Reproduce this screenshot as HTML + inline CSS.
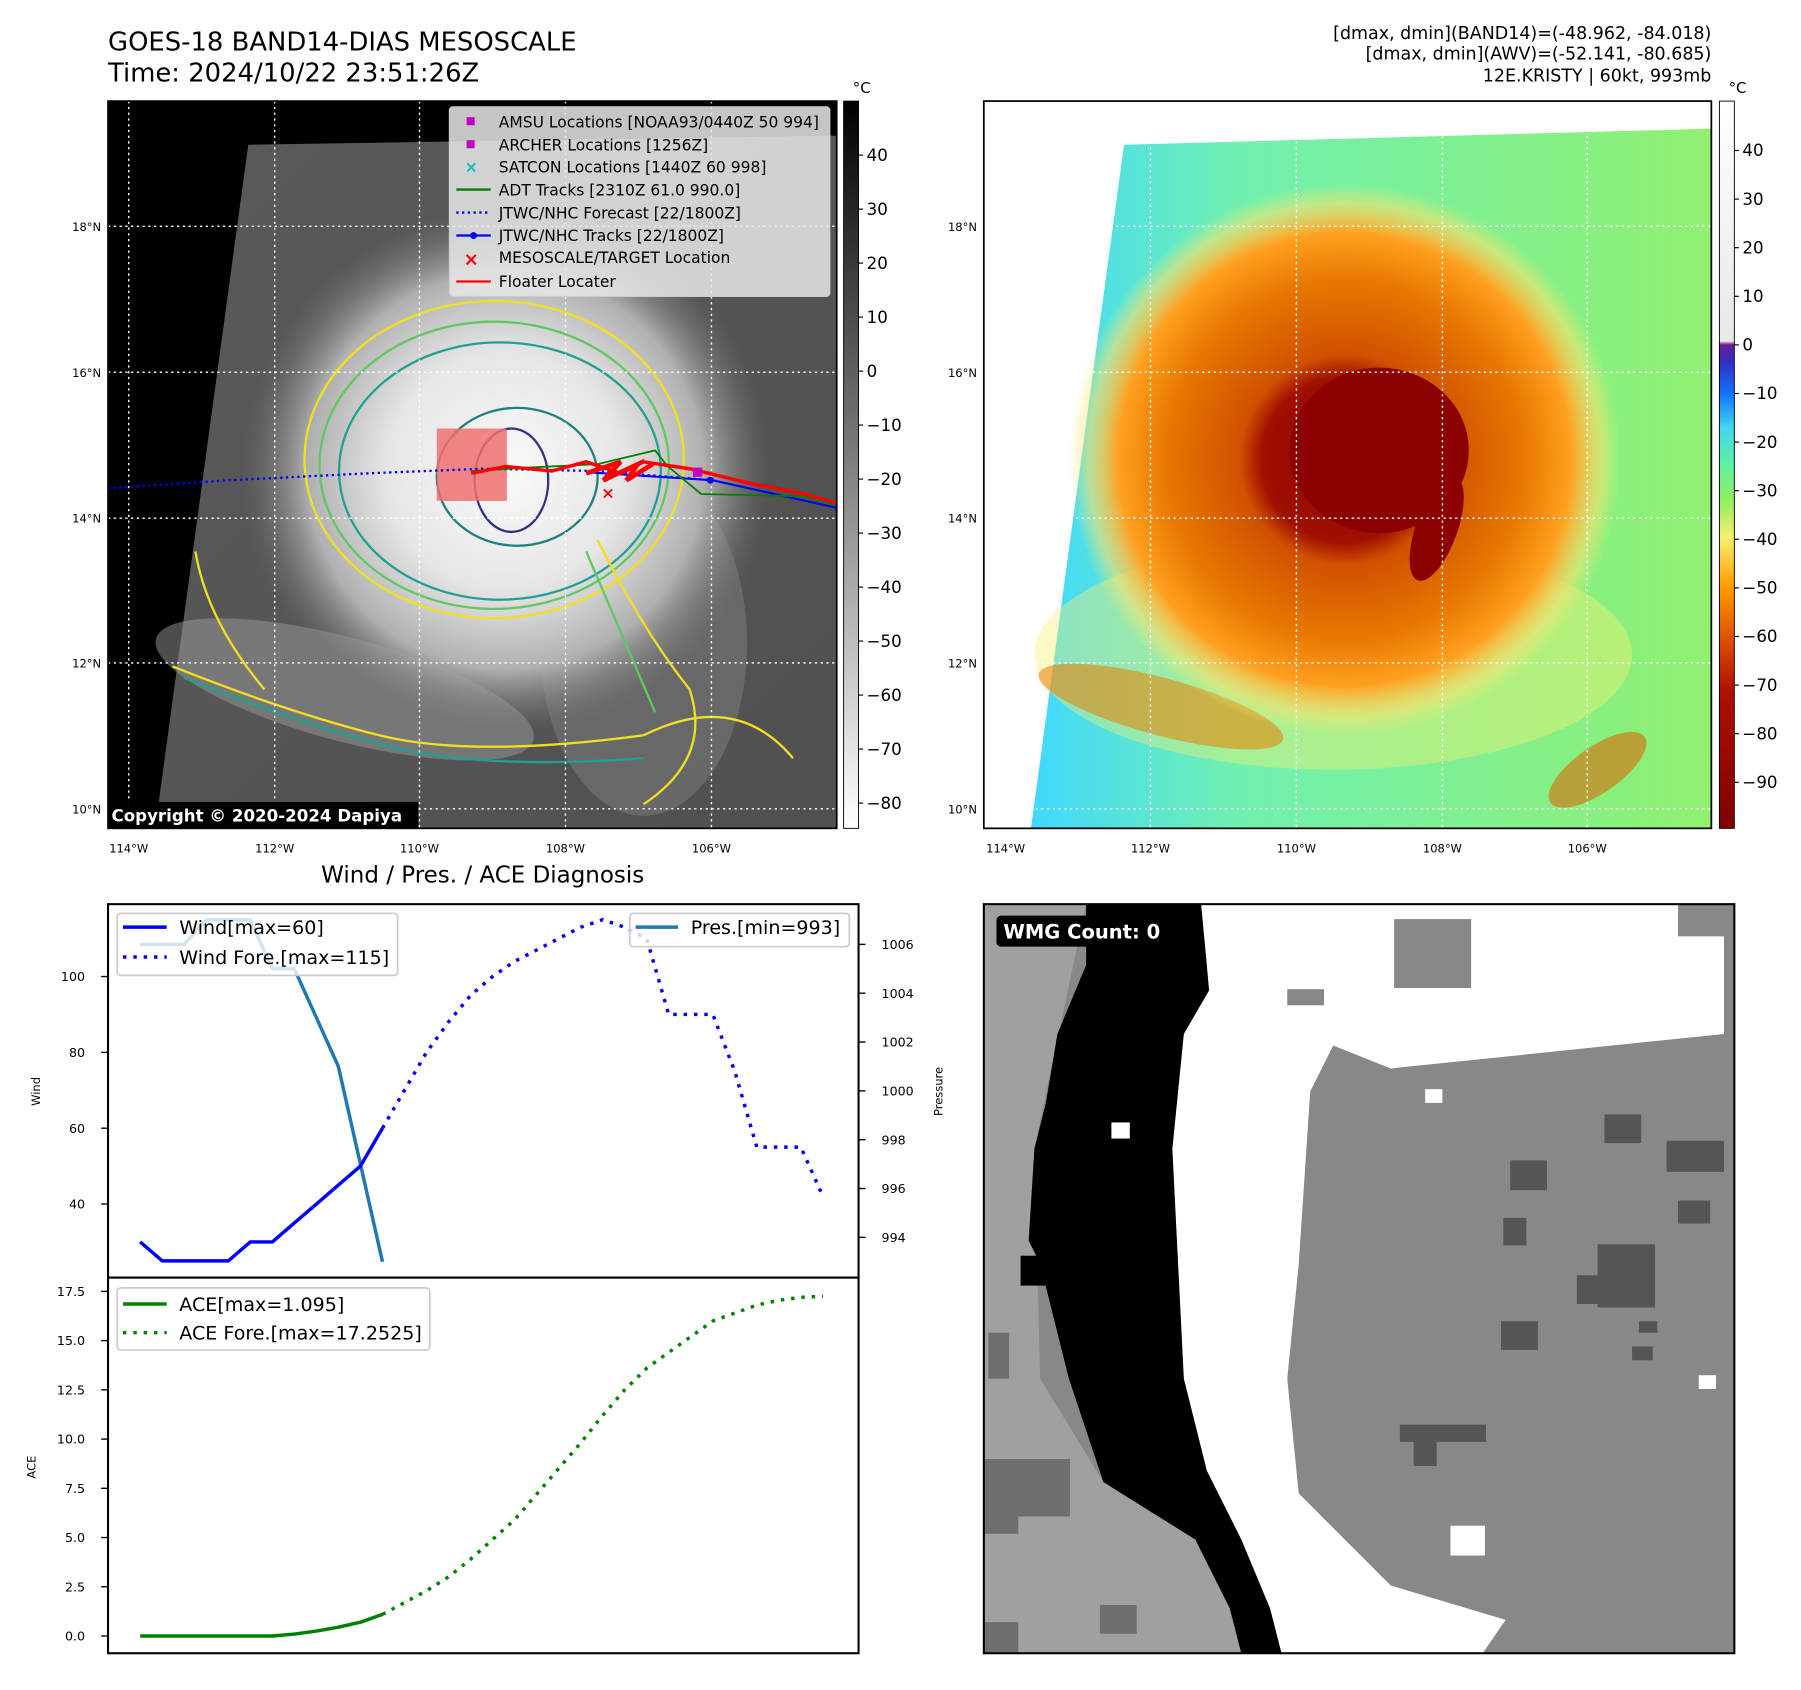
<!DOCTYPE html>
<html><head><meta charset="utf-8">
<style>
html,body{margin:0;padding:0;background:#fff;}
svg{display:block;font-family:"DejaVu Sans","Liberation Sans",sans-serif;}
</style></head>
<body>
<svg id="root" width="1801" height="1690" viewBox="0 0 1567 1471" preserveAspectRatio="none" xmlns="http://www.w3.org/2000/svg">
<defs>
  <radialGradient id="cloud" cx="440" cy="410" r="230" gradientUnits="userSpaceOnUse">
    <stop offset="0" stop-color="#fafafa"/><stop offset="0.45" stop-color="#e6e6e6"/><stop offset="0.75" stop-color="#b0b0b0"/><stop offset="1" stop-color="#707070" stop-opacity="0"/>
  </radialGradient>
  <linearGradient id="grey1" x1="0" y1="0" x2="1" y2="1">
    <stop offset="0" stop-color="#5a5a5a"/><stop offset="1" stop-color="#505050"/>
  </linearGradient>
  <linearGradient id="cb1" x1="0" y1="0" x2="0" y2="1">
    <stop offset="0" stop-color="#000"/><stop offset="1" stop-color="#fff"/>
  </linearGradient>
  <linearGradient id="cb2" x1="0" y1="0" x2="0" y2="1">
    <stop offset="0" stop-color="#ffffff"/><stop offset="0.33" stop-color="#e8e8e8"/>
    <stop offset="0.335" stop-color="#6a1a9a"/><stop offset="0.36" stop-color="#3030c0"/>
    <stop offset="0.40" stop-color="#1070ff"/><stop offset="0.45" stop-color="#40d8f0"/>
    <stop offset="0.50" stop-color="#60f0a0"/><stop offset="0.55" stop-color="#90f060"/>
    <stop offset="0.60" stop-color="#f8f070"/><stop offset="0.67" stop-color="#ff9900"/>
    <stop offset="0.74" stop-color="#e05000"/><stop offset="0.81" stop-color="#b01000"/>
    <stop offset="1" stop-color="#800000"/>
  </linearGradient>
  <linearGradient id="bg2" x1="0" y1="0" x2="1" y2="0">
    <stop offset="0" stop-color="#40d8ff"/><stop offset="0.3" stop-color="#70f0b0"/><stop offset="1" stop-color="#90f070"/>
  </linearGradient>
  <radialGradient id="storm" cx="1170" cy="400" r="240" gradientUnits="userSpaceOnUse">
    <stop offset="0" stop-color="#900000"/><stop offset="0.3" stop-color="#a01000"/><stop offset="0.38" stop-color="#d05000"/>
    <stop offset="0.65" stop-color="#e87800"/><stop offset="0.82" stop-color="#ffa020"/><stop offset="0.93" stop-color="#f8e070" stop-opacity="0.6"/><stop offset="1" stop-color="#f8f070" stop-opacity="0"/>
  </radialGradient>
  <clipPath id="clip1"><rect x="94" y="88" width="634" height="633"/></clipPath>
  <clipPath id="clip2"><rect x="856" y="88" width="633" height="633"/></clipPath>
</defs>

<text x="94" y="44" font-size="22.5">GOES-18 BAND14-DIAS MESOSCALE</text>
<text x="94" y="71" font-size="22.5">Time: 2024/10/22 23:51:26Z</text>
<g font-size="15.2" text-anchor="end">
<text x="1489" y="34">[dmax, dmin](BAND14)=(-48.962, -84.018)</text>
<text x="1489" y="52">[dmax, dmin](AWV)=(-52.141, -80.685)</text>
<text x="1489" y="71">12E.KRISTY | 60kt, 993mb</text>
</g>

<g clip-path="url(#clip1)">
  <rect x="94" y="88" width="634" height="633" fill="#000"/>
  <polygon points="216,126 728,118 728,721 135,721" fill="url(#grey1)"/>
  <ellipse cx="300" cy="600" rx="170" ry="45" fill="#9a9a9a" opacity="0.5" transform="rotate(15 300 600)"/>
  <ellipse cx="560" cy="560" rx="90" ry="150" fill="#8a8a8a" opacity="0.4"/>
  <circle cx="440" cy="410" r="230" fill="url(#cloud)"/>
  <g fill="none" stroke-width="2">
    <ellipse cx="430" cy="400" rx="165" ry="138" stroke="#f0e020"/>
    <ellipse cx="430" cy="405" rx="152" ry="125" stroke="#60c860"/>
    <ellipse cx="435" cy="410" rx="140" ry="112" stroke="#20a090"/>
    <ellipse cx="450" cy="415" rx="70" ry="60" stroke="#208080"/>
    <ellipse cx="445" cy="418" rx="32" ry="45" stroke="#303080"/>
    <path d="M150,580 Q250,620 330,640 T560,640 Q640,600 690,660" stroke="#f0e020"/>
    <path d="M160,590 Q260,630 340,650 T560,660" stroke="#20a090"/>
    <path d="M170,480 Q180,540 230,600" stroke="#f0e020"/>
    <path d="M520,470 Q560,550 600,600 Q620,660 560,700" stroke="#f0e020"/>
    <path d="M510,480 Q540,550 570,620" stroke="#60c860"/>
  </g>
  <g stroke="#fff" stroke-dasharray="2,3" stroke-width="1.2">
    <line x1="94" y1="197" x2="728" y2="197"/><line x1="94" y1="324" x2="728" y2="324"/><line x1="94" y1="451" x2="728" y2="451"/><line x1="94" y1="577" x2="728" y2="577"/><line x1="94" y1="704" x2="728" y2="704"/>
    <line x1="112" y1="88" x2="112" y2="721"/><line x1="239" y1="88" x2="239" y2="721"/><line x1="365" y1="88" x2="365" y2="721"/><line x1="492" y1="88" x2="492" y2="721"/><line x1="619" y1="88" x2="619" y2="721"/>
  </g>
  <rect x="380" y="373" width="61" height="63" fill="#f07070" opacity="0.85"/>
  <polyline points="94,425 200,418 320,412 420,408 520,410 620,418" fill="none" stroke="#0000ff" stroke-width="2" stroke-dasharray="2,3"/>
  <polyline points="510,411 620,418 728,442" fill="none" stroke="#0000ff" stroke-width="1.8"/>
  <polyline points="410,410 460,407 520,404 570,392 580,405 610,430 700,432 728,440" fill="none" stroke="#008000" stroke-width="1.6"/>
  <polyline points="410,412 440,406 480,410 510,402 540,412 560,402 600,408 650,420 700,430 728,438" fill="none" stroke="#ff0000" stroke-width="3"/>
  <path d="M510,412 L540,402 L525,418 L555,404 L545,418 L568,404" stroke="#ff0000" stroke-width="4" fill="none"/>
  <text x="529" y="434" font-size="14" fill="#f00" text-anchor="middle" font-weight="bold">×</text>
  <rect x="603" y="407" width="8" height="8" fill="#c000c0"/>
  <circle cx="618" cy="418" r="3" fill="#0000ff"/>
</g>
<rect x="94" y="88" width="634" height="633" fill="none" stroke="#000" stroke-width="1.5"/>
<rect x="94" y="698" width="270" height="23" fill="#000"/>
<text x="97" y="715" font-size="14.5" font-weight="bold" fill="#fff">Copyright © 2020-2024 Dapiya</text>

<g font-size="13.5">
  <rect x="391" y="93" width="331" height="165" rx="3" fill="#e8e8e8" fill-opacity="0.85" stroke="#ccc"/>
  <rect x="406" y="102" width="7" height="7" fill="#c000c0"/><text x="434" y="111">AMSU Locations [NOAA93/0440Z 50 994]</text>
  <rect x="406" y="122" width="7" height="7" fill="#c000c0"/><text x="434" y="131">ARCHER Locations [1256Z]</text>
  <text x="410" y="150" fill="#00c0c0" text-anchor="middle" font-weight="bold">×</text><text x="434" y="150">SATCON Locations [1440Z 60 998]</text>
  <line x1="397" y1="165" x2="427" y2="165" stroke="#008000" stroke-width="2"/><text x="434" y="170">ADT Tracks [2310Z 61.0 990.0]</text>
  <line x1="397" y1="185" x2="427" y2="185" stroke="#0000ff" stroke-width="2" stroke-dasharray="2,3"/><text x="434" y="190">JTWC/NHC Forecast [22/1800Z]</text>
  <line x1="397" y1="205" x2="427" y2="205" stroke="#0000ff" stroke-width="2"/><circle cx="412" cy="205" r="3" fill="#0000ff"/><text x="434" y="210">JTWC/NHC Tracks [22/1800Z]</text>
  <text x="410" y="231" fill="#f00" text-anchor="middle" font-weight="bold" font-size="16">×</text><text x="434" y="229">MESOSCALE/TARGET Location</text>
  <line x1="397" y1="245" x2="427" y2="245" stroke="#ff0000" stroke-width="2"/><text x="434" y="250">Floater Locater</text>
</g>

<rect x="734" y="88" width="13" height="633" fill="url(#cb1)" stroke="#000" stroke-width="0.8"/>
<text x="742" y="81" font-size="13">°C</text>
<g id="cb1ticks" font-size="14.5"></g>

<g font-size="10" text-anchor="end">
<text x="88" y="201">18°N</text><text x="88" y="328">16°N</text><text x="88" y="455">14°N</text><text x="88" y="581">12°N</text><text x="88" y="708">10°N</text>
</g>
<g font-size="10" text-anchor="middle">
<text x="112" y="742">114°W</text><text x="239" y="742">112°W</text><text x="365" y="742">110°W</text><text x="492" y="742">108°W</text><text x="619" y="742">106°W</text>
</g>

<g clip-path="url(#clip2)">
  <rect x="856" y="88" width="633" height="633" fill="#fff"/>
  <polygon points="978,126 1489,112 1489,721 897,721" fill="url(#bg2)"/>
  <ellipse cx="1160" cy="570" rx="260" ry="100" fill="#f8f070" opacity="0.4"/>
  <ellipse cx="1010" cy="615" rx="110" ry="25" fill="#e88000" opacity="0.55" transform="rotate(15 1010 615)"/>
  <ellipse cx="1390" cy="670" rx="50" ry="20" fill="#e06000" opacity="0.55" transform="rotate(-35 1390 670)"/>
  <circle cx="1170" cy="400" r="240" fill="url(#storm)"/>
  <ellipse cx="1200" cy="392" rx="78" ry="72" fill="#8b0000"/>
  <ellipse cx="1250" cy="460" rx="18" ry="48" fill="#8b0000" transform="rotate(20 1250 460)"/>
  <g stroke="#fff" stroke-dasharray="2,3" stroke-width="1.2">
    <line x1="856" y1="197" x2="1489" y2="197"/><line x1="856" y1="324" x2="1489" y2="324"/><line x1="856" y1="451" x2="1489" y2="451"/><line x1="856" y1="577" x2="1489" y2="577"/><line x1="856" y1="704" x2="1489" y2="704"/>
    <line x1="875" y1="88" x2="875" y2="721"/><line x1="1001" y1="88" x2="1001" y2="721"/><line x1="1128" y1="88" x2="1128" y2="721"/><line x1="1255" y1="88" x2="1255" y2="721"/><line x1="1381" y1="88" x2="1381" y2="721"/>
  </g>
</g>
<rect x="856" y="88" width="633" height="633" fill="none" stroke="#000" stroke-width="1.5"/>
<rect x="1496" y="88" width="13" height="633" fill="url(#cb2)" stroke="#000" stroke-width="0.8"/>
<text x="1504" y="81" font-size="13">°C</text>
<g id="cb2ticks" font-size="14.5"></g>
<g font-size="10" text-anchor="end">
<text x="850" y="201">18°N</text><text x="850" y="328">16°N</text><text x="850" y="455">14°N</text><text x="850" y="581">12°N</text><text x="850" y="708">10°N</text>
</g>
<g font-size="10" text-anchor="middle">
<text x="875" y="742">114°W</text><text x="1001" y="742">112°W</text><text x="1128" y="742">110°W</text><text x="1255" y="742">108°W</text><text x="1381" y="742">106°W</text>
</g>

<text x="420" y="768" font-size="20" text-anchor="middle">Wind / Pres. / ACE Diagnosis</text>
<g id="chart"></g>
<rect x="94" y="787" width="653" height="325" fill="none" stroke="#000" stroke-width="1.8"/>
<rect x="94" y="1112" width="653" height="327" fill="none" stroke="#000" stroke-width="1.8"/>
<text transform="translate(35 950) rotate(-90)" font-size="10" text-anchor="middle">Wind</text>
<text transform="translate(820 950) rotate(-90)" font-size="10" text-anchor="middle">Pressure</text>
<text transform="translate(31 1277) rotate(-90)" font-size="10" text-anchor="middle">ACE</text>

<g font-size="16.6">
  <rect x="102" y="795" width="244" height="54" rx="3" fill="#fff" fill-opacity="0.8" stroke="#ccc" stroke-width="1.5"/>
  <line x1="107" y1="807" x2="145" y2="807" stroke="#0000ff" stroke-width="3"/><text x="156" y="813">Wind[max=60]</text>
  <line x1="107" y1="833" x2="145" y2="833" stroke="#0000ff" stroke-width="3" stroke-dasharray="3,6"/><text x="156" y="839">Wind Fore.[max=115]</text>
</g>
<g font-size="16.6">
  <rect x="548" y="795" width="191" height="29" rx="3" fill="#fff" fill-opacity="0.8" stroke="#ccc" stroke-width="1.5"/>
  <line x1="553" y1="807" x2="590" y2="807" stroke="#1f77b4" stroke-width="3"/><text x="601" y="813">Pres.[min=993]</text>
</g>
<g font-size="16.6">
  <rect x="102" y="1121" width="272" height="54" rx="3" fill="#fff" fill-opacity="0.8" stroke="#ccc" stroke-width="1.5"/>
  <line x1="107" y1="1135" x2="145" y2="1135" stroke="#008000" stroke-width="3"/><text x="156" y="1141">ACE[max=1.095]</text>
  <line x1="107" y1="1160" x2="145" y2="1160" stroke="#008000" stroke-width="3" stroke-dasharray="3,6"/><text x="156" y="1166">ACE Fore.[max=17.2525]</text>
</g>

<g>
  <svg x="856" y="787" width="653" height="652" viewBox="856 787 653 652">
  <rect x="856" y="787" width="653" height="652" fill="#888"/>
  <polygon points="856,787 945,787 900,1000 905,1200 960,1290 1040,1340 1070,1400 1080,1439 856,1439" fill="#a0a0a0"/>
  <polygon points="1045,787 1500,787 1500,900 1210,930 1160,910 1140,950 1130,1100 1120,1200 1130,1300 1210,1380 1310,1410 1290,1439 1115,1439 1105,1400 1080,1340 1050,1280 1030,1200 1025,1100 1020,1000 1030,900 1050,840" fill="#fff"/>
  <polygon points="945,787 1045,787 1050,840 1052,862 1030,900 1020,1000 1025,1100 1030,1200 1050,1280 1080,1340 1105,1400 1115,1439 1080,1439 1070,1400 1040,1340 960,1290 930,1200 905,1100 895,1080 900,1000 910,960 920,900 945,840" fill="#000"/>
  <rect x="967" y="977" width="16" height="14" fill="#fff"/>
  <rect x="888" y="1093" width="28" height="26" fill="#000"/>
  <rect x="1213" y="800" width="67" height="60" fill="#888"/>
  <rect x="1460" y="787" width="45" height="28" fill="#888"/>
  <rect x="1120" y="861" width="32" height="14" fill="#888"/>
  <rect x="1240" y="948" width="15" height="12" fill="#fff"/>
  <rect x="1262" y="1328" width="30" height="26" fill="#fff"/>
  <rect x="1478" y="1197" width="15" height="12" fill="#fff"/>
  <g fill="#555">
    <rect x="1396" y="970" width="32" height="25"/><rect x="1450" y="993" width="50" height="27"/><rect x="1314" y="1010" width="32" height="26"/><rect x="1390" y="1083" width="50" height="55"/><rect x="1372" y="1110" width="30" height="25"/><rect x="1306" y="1150" width="32" height="25"/><rect x="1218" y="1240" width="75" height="15"/><rect x="1230" y="1250" width="20" height="26"/><rect x="1308" y="1060" width="20" height="24"/><rect x="1460" y="1045" width="28" height="20"/><rect x="1426" y="1150" width="16" height="10"/><rect x="1420" y="1172" width="18" height="12"/>
  </g>
  <g fill="#6e6e6e">
    <rect x="856" y="1270" width="75" height="50"/><rect x="856" y="1310" width="30" height="25"/><rect x="957" y="1397" width="32" height="25"/><rect x="856" y="1412" width="30" height="27"/><rect x="860" y="1160" width="18" height="40"/>
  </g>
  </svg>
  <rect x="856" y="787" width="653" height="652" fill="none" stroke="#000" stroke-width="1.8"/>
  <rect x="867" y="797" width="155" height="27" rx="4" fill="#000"/>
  <text x="873" y="817" font-size="17" font-weight="bold" fill="#fff">WMG Count: 0</text>
</g>

<script>
const windObsIdx = [0,1,2,3,4,5,6,7,8,9,10,11];
const windObs = [30,25,25,25,25,30,30,35,40,45,50,60];
const windForeIdx = [11,12,13,14,15,16,17,18,19,20,21,22,23,24,25,26,27,28,29,30,31];
const windFore = [60,70,80,88,95,100,104,107,110,113,115,113,110,90,90,90,75,55,55,55,42];
const presObs = [1006,1006,1006,1007,1007,1007,1005,1005,1003,1001,997,993];
const aceObs = [0,0,0,0,0,0,0,0.1,0.25,0.45,0.7,1.095];
const aceFore = [1.095,1.7,2.3,3.0,3.9,4.9,5.9,7.2,8.5,9.8,11.2,12.5,13.6,14.4,15.2,16.0,16.4,16.8,17.05,17.2,17.25];
const windTicks = [40,60,80,100];
const presTicks = [994,996,998,1000,1002,1004,1006];
const aceTicks = [0,2.5,5,7.5,10,12.5,15,17.5];
const cb1Ticks = [40,30,20,10,0,-10,-20,-30,-40,-50,-60,-70,-80];
const cb2Ticks = [40,30,20,10,0,-10,-20,-30,-40,-50,-60,-70,-80,-90];

const NS = 'http://www.w3.org/2000/svg';
const xs = i => 122 + i*19.16;
const yWind = v => 850 - (v-100)*3.3;
const yPres = v => 822 - (v-1006)*21.25;
const yAce = v => 1424 - v*17.14;
const cb1y = v => 135 - (v-40)*4.7;
const cb2y = v => 131 - (v-40)*4.23;

function mk(tag, attrs, parent){
  const e = document.createElementNS(NS, tag);
  for (const k in attrs) e.setAttribute(k, attrs[k]);
  parent.appendChild(e);
  return e;
}
const chart = document.getElementById('chart');
function line(idx, vals, yf, color, dash, name){
  const pts = idx.map((i,k)=>xs(i).toFixed(1)+','+yf(vals[k]).toFixed(1)).join(' ');
  const p = mk('polyline',{points:pts,fill:'none',stroke:color,'stroke-width':3,'stroke-dasharray':dash||'none','stroke-linejoin':'round'},chart);
  
  
}
line(windObsIdx, presObs, yPres, '#1f77b4', null, 'pressure-line');
line(windObsIdx, windObs, yWind, '#0000ff', null, 'wind-line');
line(windForeIdx, windFore, yWind, '#0000ff', '3,6', 'wind-forecast-line');
line(windObsIdx, aceObs, yAce, '#008000', null, 'ace-line');
line(windForeIdx, aceFore, yAce, '#008000', '3,6', 'ace-forecast-line');

function ticks(list, yf, x, side, fmt, parent, name, fs){
  list.forEach(v=>{
    const y = yf(v);
    if (side==='left'){
      mk('line',{x1:x-6,y1:y,x2:x,y2:y,stroke:'#000','stroke-width':1.2},parent);
      const t = mk('text',{x:x-20,y:y+4,'font-size':fs,'text-anchor':'end'},parent);
      t.textContent = fmt(v);
      
      
    } else {
      mk('line',{x1:x,y1:y,x2:x+6,y2:y,stroke:'#000','stroke-width':1.2},parent);
      const t = mk('text',{x:x+20,y:y+4,'font-size':fs},parent);
      t.textContent = fmt(v);
      
      
    }
  });
}
ticks(windTicks, yWind, 94, 'left', v=>String(v), chart, 'wind-tick', 11);
ticks(presTicks, yPres, 747, 'right', v=>String(v), chart, 'pressure-tick', 11);
ticks(aceTicks, yAce, 94, 'left', v=>v.toFixed(1), chart, 'ace-tick', 11);

function cbTicks(list, yf, x, gid, name){
  const g = document.getElementById(gid);
  list.forEach(v=>{
    const y = yf(v);
    mk('line',{x1:x,y1:y,x2:x+4,y2:y,stroke:'#000'},g);
    const t = mk('text',{x:x+7,y:y+5},g);
    t.textContent = v<0 ? '\u2212'+Math.abs(v) : String(v);
    
    
  });
}
cbTicks(cb1Ticks, cb1y, 747, 'cb1ticks', 'colorbar1-tick');
cbTicks(cb2Ticks, cb2y, 1509, 'cb2ticks', 'colorbar2-tick');
</script>
</svg>
</body></html>
